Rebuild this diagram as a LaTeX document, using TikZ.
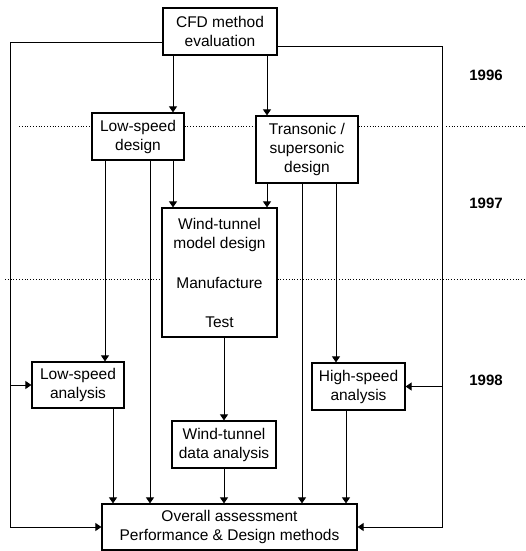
\documentclass[tikz,border=0pt]{standalone}
\usepackage{fontspec}
\setmainfont{Liberation Sans}
\usetikzlibrary{arrows.meta}
\begin{document}
\begin{tikzpicture}[x=1pt,y=-1pt,
  box/.style={draw,line width=1.2pt,align=center,inner sep=0pt,font=\fontsize{15.5}{19}\selectfont},
  conn/.style={line width=1pt},
  arr/.style={conn,-{Triangle[length=6pt,width=8pt]}},
  sep/.style={dotted,line width=0.8pt},
  yr/.style={font=\fontsize{15}{17}\selectfont\bfseries}]
\useasboundingbox (0,0) rectangle (525,551);
% nodes
\node[box,minimum width=114pt,minimum height=47pt] (cfd) at (220,31.5) {CFD method\\evaluation};
\node[box,minimum width=92pt,minimum height=47pt] (lsd) at (138,136.5) {Low-speed\\design};
\node[box,minimum width=102pt,minimum height=67pt] (ts) at (307,149.5) {Transonic /\\supersonic\\design};
\node[box,minimum width=115pt,minimum height=129pt] (wtm) at (219.5,272.5) {Wind-tunnel\\model design\\[21pt]Manufacture\\[20pt]Test};
\node[box,minimum width=92pt,minimum height=46pt] (lsa) at (78,385) {Low-speed\\analysis};
\node[box,minimum width=93pt,minimum height=47pt] (hsa) at (358.5,386.5) {High-speed\\analysis};
\node[box,minimum width=104pt,minimum height=47pt] (wtd) at (224,444.5) {Wind-tunnel\\data analysis};
\node[box,minimum width=255pt,minimum height=46pt] (oa) at (229.5,527) {Overall assessment\\Performance \& Design methods};
% years
\node[yr] (y96) at (486,75) {1996};
\node[yr] (y97) at (486,203) {1997};
\node[yr] (y98) at (486,380) {1998};
% column coordinates
\coordinate (cA) at (173,0);
\coordinate (cB) at (267,0);
\coordinate (cC) at (105,0);
\coordinate (cD) at (150,0);
\coordinate (cE) at (302,0);
\coordinate (cF) at (336,0);
\coordinate (cG) at (113,0);
\coordinate (cI) at (346,0);
\coordinate (lt) at (10,43);
\coordinate (rt) at (442,47);
\coordinate (d1a) at (19,126);
\coordinate (d1b) at (438,126);
\coordinate (d1c) at (446,126);
\coordinate (d1d) at (525,126);
\coordinate (d2a) at (5,279);
\coordinate (d2b) at (525,279);
% dotted year separators
\draw[sep] (d1a) -- (lsd.west |- d1a);
\draw[sep] (lsd.east |- d1a) -- (ts.west |- d1a);
\draw[sep] (ts.east |- d1a) -- (d1b);
\draw[sep] (d1c) -- (d1d);
\draw[sep] (d2a) -- (wtm.west |- d2a);
\draw[sep] (wtm.east |- d2a) -- (d2b);
% connectors
\draw[arr] (cfd.south -| cA) -- (lsd.north -| cA);
\draw[arr] (cfd.south -| cB) -- (ts.north -| cB);
\draw[arr] (lsd.south -| cA) -- (wtm.north -| cA);
\draw[arr] (ts.south -| cB) -- (wtm.north -| cB);
\draw[arr] (lsd.south -| cC) -- (lsa.north -| cC);
\draw[arr] (lsd.south -| cD) -- (oa.north -| cD);
\draw[arr] (ts.south -| cE) -- (oa.north -| cE);
\draw[arr] (ts.south -| cF) -- (hsa.north -| cF);
\draw[arr] (wtm.south -| wtd.north) -- (wtd.north);
\draw[arr] (wtd.south) -- (oa.north -| wtd.south);
\draw[arr] (lsa.south -| cG) -- (oa.north -| cG);
\draw[arr] (hsa.south -| cI) -- (oa.north -| cI);
% feedback loops
\draw[arr] (cfd.west |- lt) -- (lt) |- (oa.west);
\draw[arr] (lt |- lsa.west) -- (lsa.west);
\draw[arr] (cfd.east |- rt) -- (rt) |- (oa.east);
\draw[arr] (rt |- hsa.east) -- (hsa.east);
\end{tikzpicture}
\end{document}
